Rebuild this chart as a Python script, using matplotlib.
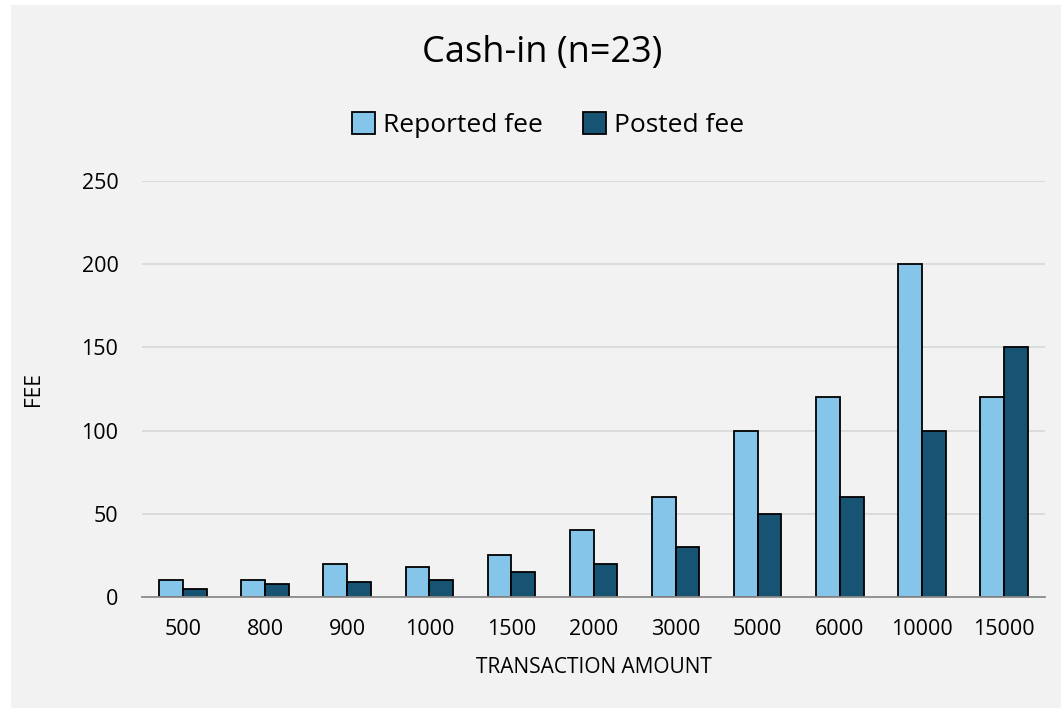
import matplotlib
matplotlib.use("Agg")
import matplotlib.pyplot as plt
from matplotlib.patches import Rectangle, Patch
import numpy as np

plt.rcParams['font.family'] = ['Open Sans', 'DejaVu Sans']

categories = ["500", "800", "900", "1000", "1500", "2000", "3000", "5000", "6000", "10000", "15000"]
reported_fee = [10, 10, 20, 18, 25, 40, 60, 100, 120, 200, 120]
posted_fee = [5, 8, 9, 10, 15, 20, 30, 50, 60, 100, 150]
series_names = ["Reported fee", "Posted fee"]
colors = ["#85C5E9", "#175373"]

W, H = 1061, 708
fig = plt.figure(figsize=(W / 100, H / 100), dpi=100, facecolor="white")
# light grey chart area
fig.patches.append(Rectangle((11 / W, 0), 1 - 11 / W, 1 - 5 / H,
                             transform=fig.transFigure, facecolor="#F2F2F2",
                             edgecolor="none", zorder=-10))

ax = fig.add_axes([142 / W, 1 - 597 / H, (1045 - 142) / W, (597 - 181) / H])
ax.set_facecolor("none")

x = np.arange(len(categories))
bw = 0.29
ax.bar(x - bw / 2, reported_fee, bw, color=colors[0], edgecolor="black", linewidth=1.3, zorder=3)
ax.bar(x + bw / 2, posted_fee, bw, color=colors[1], edgecolor="black", linewidth=1.3, zorder=3)

ax.set_xlim(-0.5, len(categories) - 0.5)
ax.set_ylim(0, 250)
ax.set_yticks(range(0, 251, 50))
ax.yaxis.grid(True, color="#D9D9D9", linewidth=1.3, zorder=0)
ax.set_axisbelow(True)

for s in ["top", "right", "left"]:
    ax.spines[s].set_visible(False)
ax.spines["bottom"].set_color("#8C8C8C")
ax.spines["bottom"].set_linewidth(1.3)
ax.spines["bottom"].set_zorder(4)

ax.set_xticks(x)
ax.set_xticklabels(categories)
ax.tick_params(axis="both", length=0, labelsize=15.5, colors="#000000")
ax.tick_params(axis="x", pad=16)
ax.tick_params(axis="y", pad=17)

ax.set_xlabel("TRANSACTION AMOUNT", fontsize=15, labelpad=12)
ax.set_ylabel("FEE", fontsize=15, labelpad=27)

fig.text(542 / W, 1 - 53 / H, "Cash-in (n=23)", fontsize=26, ha="center", va="center")

handles = [Patch(facecolor=colors[0], edgecolor="black", linewidth=1.3),
           Patch(facecolor=colors[1], edgecolor="black", linewidth=1.3)]
fig.legend(handles, series_names, loc="center", bbox_to_anchor=(548 / W, 1 - 125 / H),
           ncol=2, frameon=False, fontsize=19, handlelength=0.9, handleheight=0.9,
           handletextpad=0.3, columnspacing=1.5)

fig.savefig("out.png", dpi=100, facecolor="white")
